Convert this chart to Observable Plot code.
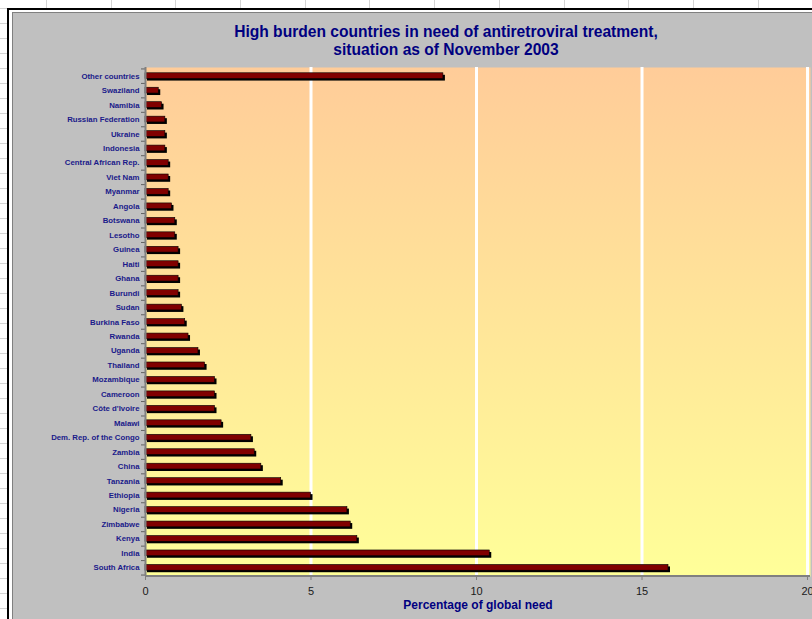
<!DOCTYPE html>
<html>
<head>
<meta charset="utf-8">
<script src="https://cdn.jsdelivr.net/npm/d3@7"></script>
<script src="https://cdn.jsdelivr.net/npm/@observablehq/plot@0.6"></script>
<style>
  body { margin: 0; background: #fff; font-family: "Liberation Sans", Arial, sans-serif; }
  #page { position: relative; width: 812px; height: 619px; overflow: hidden; background: #fff; }
  #colgrid { position: absolute; left: 0; top: 0; width: 812px; height: 8px;
    background-image: repeating-linear-gradient(to right, transparent 0, transparent 46px, #d4d4d4 46px, #d4d4d4 47px, transparent 47px, transparent 64.7px); }
  #rowgrid { position: absolute; left: 0; top: 0; width: 7px; height: 619px;
    background-image: repeating-linear-gradient(to bottom, transparent 0, transparent 8px, #d4d4d4 8px, #d4d4d4 9px, transparent 9px, transparent 15px); }
  #outer { position: absolute; left: 7px; top: 8px; width: 900px; height: 700px;
    border-left: 2px solid #000; border-top: 2px solid #000; background: #fff; }
  #inner { position: absolute; left: 12px; top: 12px; width: 900px; height: 700px;
    border-left: 1px solid #808080; border-top: 1px solid #808080; background: #c0c0c0; }
  #title { position: absolute; left: 146px; width: 600px; top: 23px; text-align: center;
    color: #000080; font-size: 15.6px; font-weight: bold; line-height: 18px; font-family: "Liberation Sans", Arial, sans-serif; }
  #chart { position: absolute; left: 0; top: 0; }
</style>
</head>
<body>
<div id="page">
  <div id="colgrid"></div>
  <div id="rowgrid"></div>
  <div id="outer"></div>
  <div id="inner"></div>
  <div id="title">High burden countries in need of antiretroviral treatment,<br>situation as of November 2003</div>
  <div id="chart"></div>
</div>
<script>
const countries = [
  "Other countries", "Swaziland", "Namibia", "Russian Federation", "Ukraine",
  "Indonesia", "Central African Rep.", "Viet Nam", "Myanmar", "Angola",
  "Botswana", "Lesotho", "Guinea", "Haiti", "Ghana",
  "Burundi", "Sudan", "Burkina Faso", "Rwanda", "Uganda",
  "Thailand", "Mozambique", "Cameroon", "Côte d'Ivoire", "Malawi",
  "Dem. Rep. of the Congo", "Zambia", "China", "Tanzania", "Ethiopia",
  "Nigeria", "Zimbabwe", "Kenya", "India", "South Africa"
];
const values = [
  9.0, 0.4, 0.5, 0.6, 0.6,
  0.6, 0.7, 0.7, 0.7, 0.8,
  0.9, 0.9, 1.0, 1.0, 1.0,
  1.0, 1.1, 1.2, 1.3, 1.6,
  1.8, 2.1, 2.1, 2.1, 2.3,
  3.2, 3.3, 3.5, 4.1, 5.0,
  6.1, 6.2, 6.4, 10.4, 15.8
];
const xTicks = [0, 5, 10, 15, 20];
const gridTicks = [5, 10, 15, 20];
const xLabel = "Percentage of global need";

const data = countries.map((c, i) => ({country: c, value: values[i]}));

const W = 812, H = 619, mT = 67, mB = 43, mL = 145, mR = 2;
const pIn = 0.6, pOut = 0.4;
const step = (H - mT - mB) / (countries.length - pIn + 2 * pOut);
const half = step / 2;
const tickLen = 4 / ((W - mL - mR) / 20.09);

const chart = Plot.plot({
  width: W, height: H,
  marginLeft: mL, marginRight: mR, marginTop: mT, marginBottom: mB,
  style: {background: "transparent", fontFamily: "'Liberation Sans', Arial, sans-serif", overflow: "visible"},
  x: {domain: [0, 20.09], axis: null},
  y: {domain: countries, paddingInner: pIn, paddingOuter: pOut, round: false, axis: null},
  marks: [
    Plot.frame({fill: "url(#bgGrad)", stroke: "none"}),
    Plot.gridX(gridTicks, {stroke: "#ffffff", strokeOpacity: 1, strokeWidth: 3}),
    Plot.barX(data, {x: "value", y: "country", fill: "#000000", dx: 2, dy: 2}),
    Plot.barX(data, {x: "value", y: "country", fill: "#800000", stroke: "#000000", strokeWidth: 0.6}),
    Plot.ruleY(countries, {y: d => d, x1: -tickLen, x2: 0, dy: half, stroke: "#606060", strokeWidth: 1}),
    Plot.ruleY([countries[0]], {y: d => d, x1: -tickLen, x2: 0, dy: -half, stroke: "#606060", strokeWidth: 1}),
    Plot.ruleX([0], {stroke: "#808080", strokeWidth: 2}),
    Plot.axisY({tickSize: 0, tickPadding: 6, fontSize: 7.8, fontWeight: "bold", fill: "#1a1a8a", label: null}),
    Plot.axisX(xTicks, {tickSize: 4, tickPadding: 7, fontSize: 11, fill: "#1a1a1a", stroke: "#808080", label: null}),
    Plot.text([xLabel], {frameAnchor: "bottom", dy: 32, text: d => d, fontSize: 12, fontWeight: "bold", fill: "#000080"})
  ]
});

// gradient background for the plot area
const svg = d3.select(chart);
const defs = svg.insert("defs", ":first-child");
const g = defs.append("linearGradient").attr("id", "bgGrad").attr("x1", 0).attr("y1", 0).attr("x2", 0).attr("y2", 1);
g.append("stop").attr("offset", "0%").attr("stop-color", "#ffcc99");
g.append("stop").attr("offset", "100%").attr("stop-color", "#ffff99");

// bottom axis line
svg.append("line")
  .attr("x1", mL).attr("x2", W - mR)
  .attr("y1", H - mB).attr("y2", H - mB)
  .attr("stroke", "#808080").attr("stroke-width", 2);

document.getElementById("chart").appendChild(chart);
</script>
</body>
</html>
